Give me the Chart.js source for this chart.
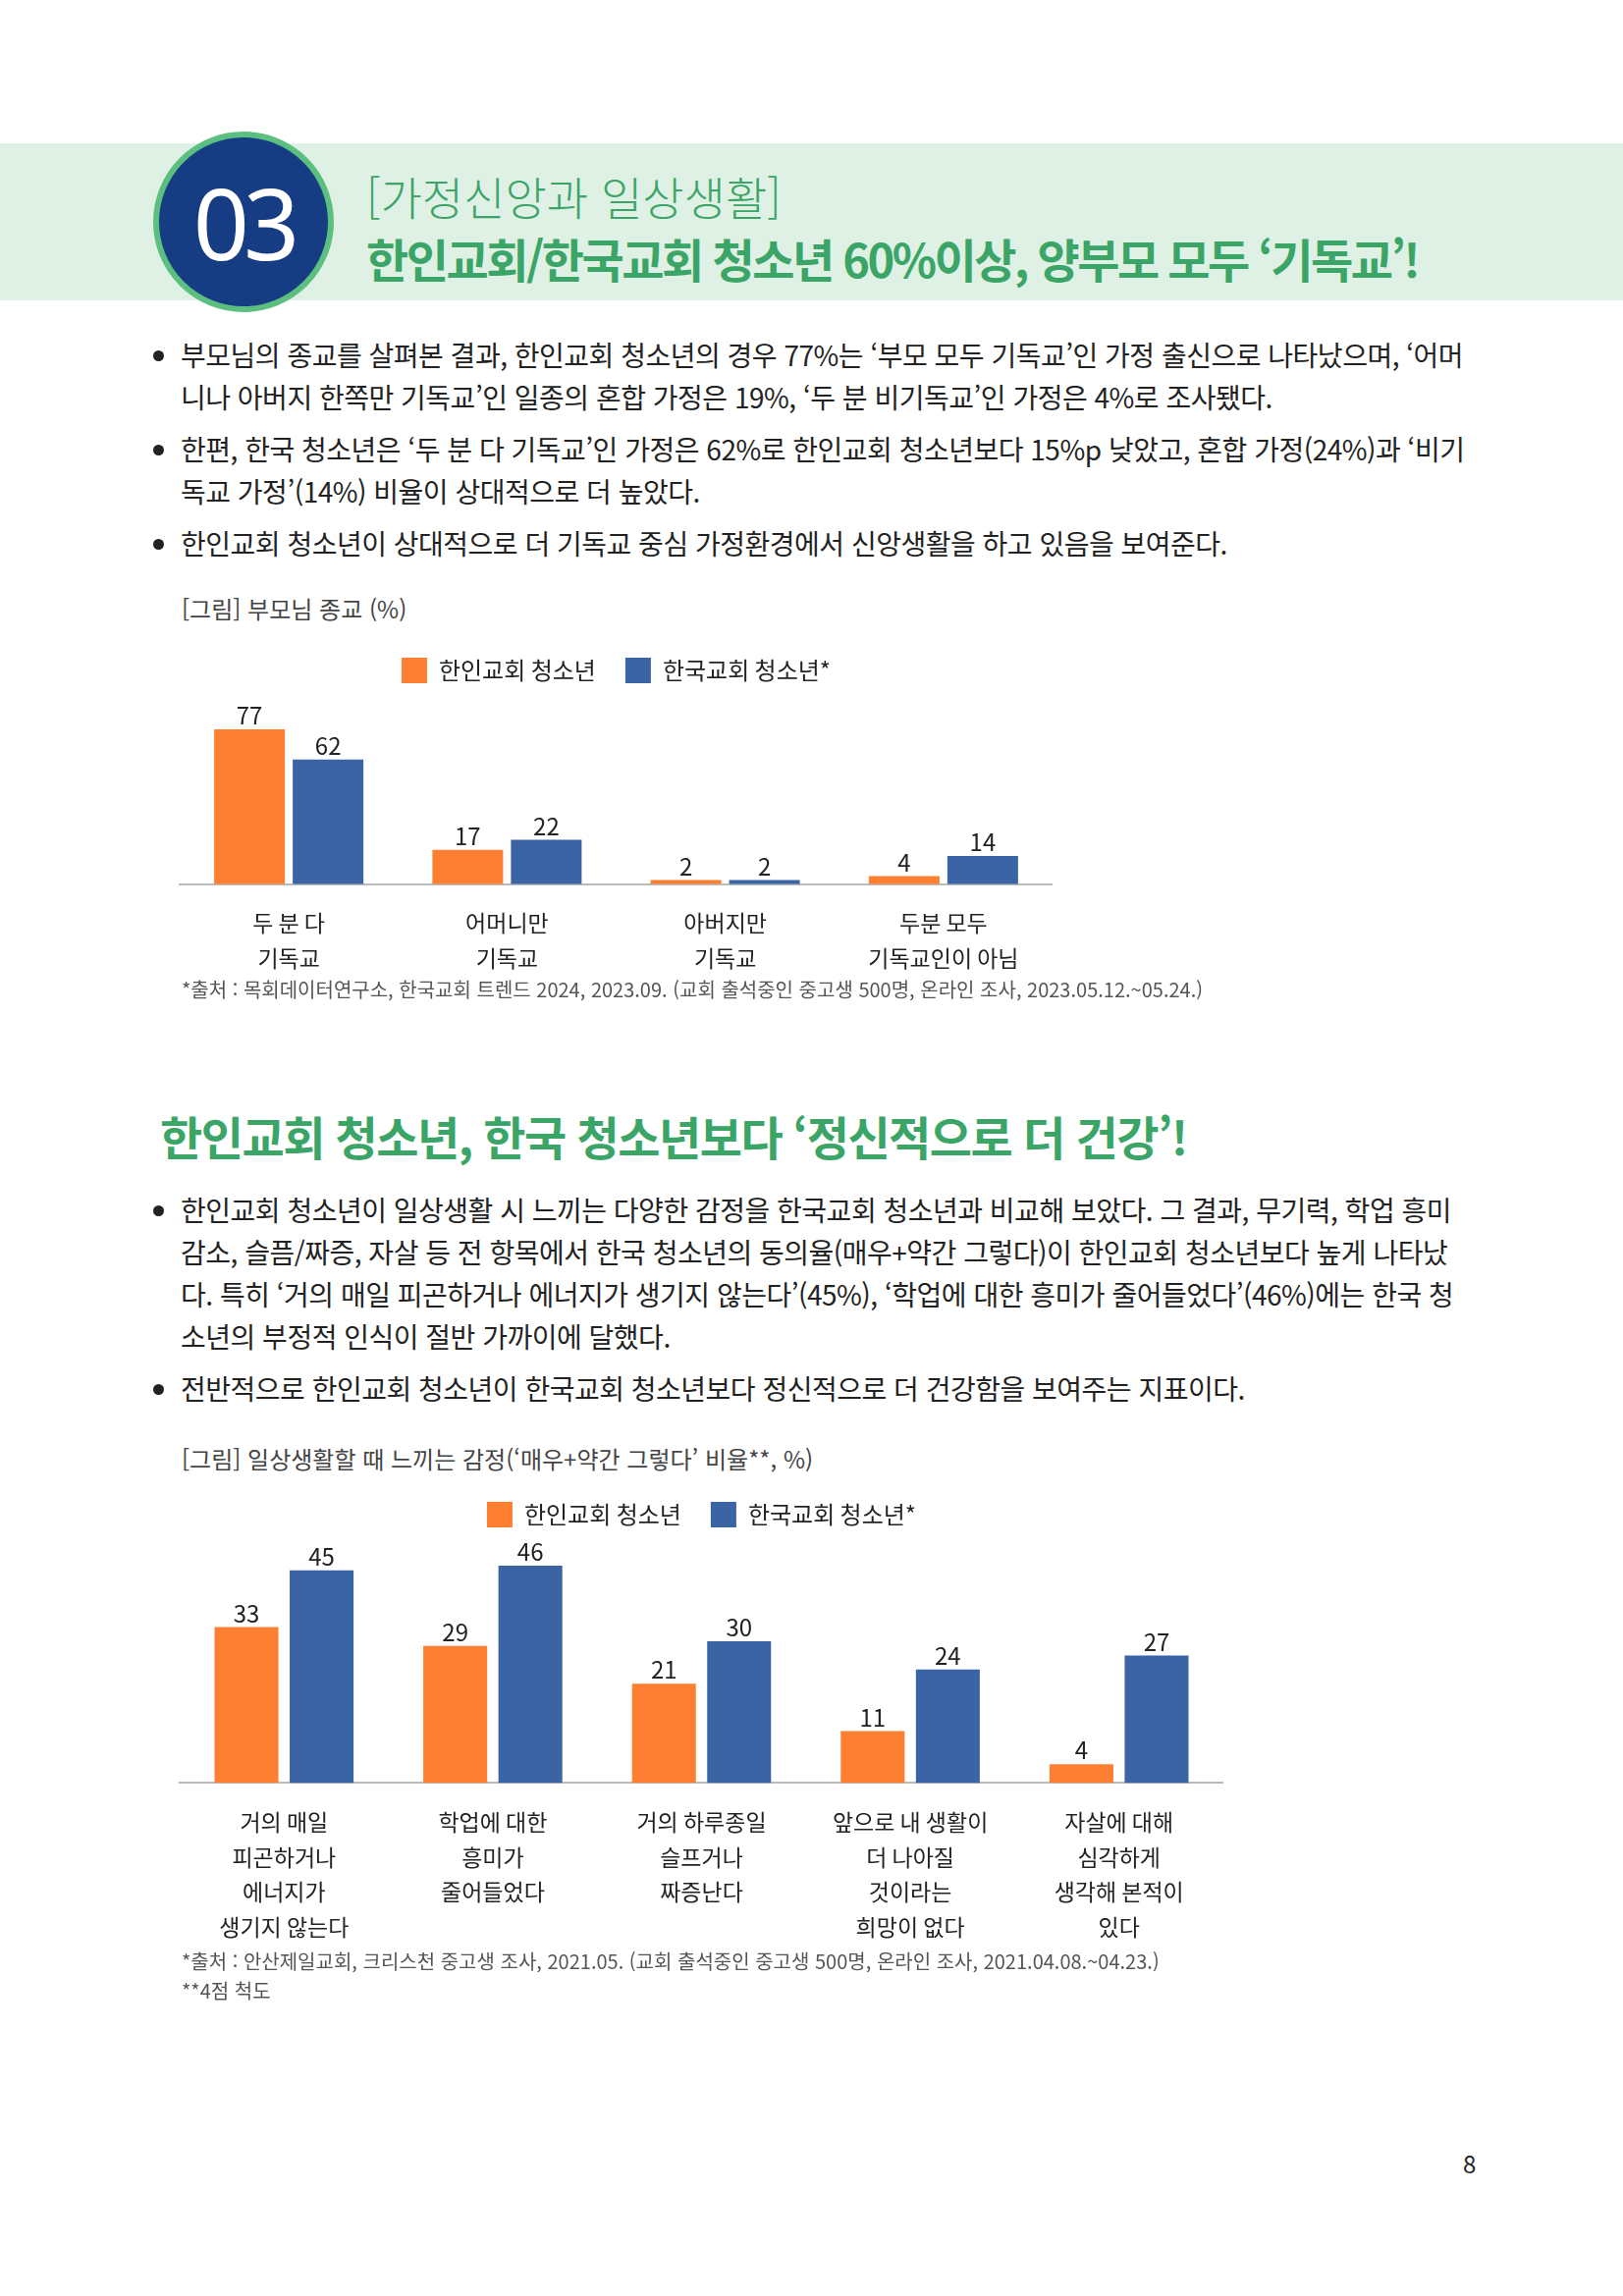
<!DOCTYPE html>
<html lang="ko">
<head>
<meta charset="utf-8">
<script src="https://cdn.jsdelivr.net/npm/chart.js@4"></script>
<style>
	body { margin: 0; width: 1653px; height: 2339px; background: #fff; position: relative; font-family: "Noto Sans CJK KR", "Noto Sans", sans-serif; color: #222; }
	.band { position: absolute; left: 0; top: 146px; width: 1653px; height: 160px; background: #dff0e5; }
	.circle { position: absolute; left: 156px; top: 134px; width: 172px; height: 172px; border-radius: 50%; background: #163d83; border: 6px solid #5bbf7f; color: #fff; font-size: 100px; line-height: 172px; text-align: center; letter-spacing: -6px; font-family: "Noto Sans", sans-serif; }
	.sub { position: absolute; left: 373px; top: 166px; font-size: 46px; color: #3aa566; font-weight: 300; }
	.title { position: absolute; left: 373px; top: 228px; font-size: 47px; color: #3aa566; font-weight: 700; letter-spacing: -2.5px; }
	.h2 { position: absolute; left: 163px; top: 1122px; font-size: 47px; color: #3aa566; font-weight: 700; letter-spacing: -1.5px; }
	ul { position: absolute; left: 150px; width: 1310px; margin: 0; padding: 0 0 0 34px; font-size: 28px; line-height: 43px; letter-spacing: -0.5px; }
	li { margin-bottom: 10px; }
	.cap { position: absolute; left: 185px; font-size: 24px; color: #444; }
	.src { position: absolute; left: 185px; font-size: 20px; color: #555; line-height: 30px; }
	.wrap { position: absolute; }
	.pn { position: absolute; left: 1490px; top: 2186px; font-size: 24px; }
</style>
</head>
<body>
<div class="band"></div>
<div class="circle">03</div>
<div class="sub">[가정신앙과 일상생활]</div>
<div class="title">한인교회/한국교회 청소년 60%이상, 양부모 모두 ‘기독교’!</div>
<ul style="top:340px">
	<li>부모님의 종교를 살펴본 결과, 한인교회 청소년의 경우 77%는 ‘부모 모두 기독교’인 가정 출신으로 나타났으며, ‘어머니나 아버지 한쪽만 기독교’인 일종의 혼합 가정은 19%, ‘두 분 비기독교’인 가정은 4%로 조사됐다.</li>
	<li>한편, 한국 청소년은 ‘두 분 다 기독교’인 가정은 62%로 한인교회 청소년보다 15%p 낮았고, 혼합 가정(24%)과 ‘비기독교 가정’(14%) 비율이 상대적으로 더 높았다.</li>
	<li>한인교회 청소년이 상대적으로 더 기독교 중심 가정환경에서 신앙생활을 하고 있음을 보여준다.</li>
</ul>
<div class="cap" style="top:602px">[그림] 부모님 종교 (%)</div>
<div class="wrap" style="left:150px;top:640px;width:922px;height:368px"><canvas id="c1"></canvas></div>
<div class="src" style="top:993px">*출처 : 목회데이터연구소, 한국교회 트렌드 2024, 2023.09. (교회 출석중인 중고생 500명, 온라인 조사, 2023.05.12.~05.24.)</div>

<div class="h2">한인교회 청소년, 한국 청소년보다 ‘정신적으로 더 건강’!</div>
<ul style="top:1211px">
	<li>한인교회 청소년이 일상생활 시 느끼는 다양한 감정을 한국교회 청소년과 비교해 보았다. 그 결과, 무기력, 학업 흥미 감소, 슬픔/짜증, 자살 등 전 항목에서 한국 청소년의 동의율(매우+약간 그렇다)이 한인교회 청소년보다 높게 나타났다. 특히 ‘거의 매일 피곤하거나 에너지가 생기지 않는다’(45%), ‘학업에 대한 흥미가 줄어들었다’(46%)에는 한국 청소년의 부정적 인식이 절반 가까이에 달했다.</li>
	<li>전반적으로 한인교회 청소년이 한국교회 청소년보다 정신적으로 더 건강함을 보여주는 지표이다.</li>
</ul>
<div class="cap" style="top:1468px">[그림] 일상생활할 때 느끼는 감정(‘매우+약간 그렇다’ 비율**, %)</div>
<div class="wrap" style="left:150px;top:1500px;width:1096px;height:495px"><canvas id="c2"></canvas></div>
<div class="src" style="top:1983px">*출처 : 안산제일교회, 크리스천 중고생 조사, 2021.05. (교회 출석중인 중고생 500명, 온라인 조사, 2021.04.08.~04.23.)<br>**4점 척도</div>
<div class="pn">8</div>

<script>
const seriesNames = ["한인교회 청소년", "한국교회 청소년*"];
const colors = ["#fd7f32", "#3a64a4"];

const religionLabels = [["두 분 다", "기독교"], ["어머니만", "기독교"], ["아버지만", "기독교"], ["두분 모두", "기독교인이 아님"]];
const religionOverseas = [77, 17, 2, 4];
const religionKorea = [62, 22, 2, 14];

const emotionLabels = [
	["거의 매일", "피곤하거나", "에너지가", "생기지 않는다"],
	["학업에 대한", "흥미가", "줄어들었다"],
	["거의 하루종일", "슬프거나", "짜증난다"],
	["앞으로 내 생활이", "더 나아질", "것이라는", "희망이 없다"],
	["자살에 대해", "심각하게", "생각해 본적이", "있다"]
];
const emotionOverseas = [33, 29, 21, 11, 4];
const emotionKorea = [45, 46, 30, 24, 27];

const font = "'Noto Sans CJK KR', 'Noto Sans', sans-serif";

const valueLabels = {
	id: "valueLabels",
	afterDatasetsDraw(chart) {
		const ctx = chart.ctx;
		ctx.save();
		ctx.fillStyle = "#222";
		ctx.font = "24px " + font;
		ctx.textAlign = "center";
		chart.data.datasets.forEach((ds, i) => {
			chart.getDatasetMeta(i).data.forEach((bar, j) => {
				ctx.fillText(ds.data[j], bar.x, bar.y - 14);
			});
		});
		ctx.restore();
	},
};

const barChart = (id, labels, a, b, max, catPct, barPct, left) => {
	const ctx = document.getElementById(id).getContext("2d");
	new Chart(ctx, {
		type: "bar",
		data: {
			labels,
			datasets: [
				{ label: seriesNames[0], data: a, backgroundColor: colors[0], categoryPercentage: catPct, barPercentage: barPct },
				{ label: seriesNames[1], data: b, backgroundColor: colors[1], categoryPercentage: catPct, barPercentage: barPct },
			],
		},
		options: {
			responsive: true,
			maintainAspectRatio: false,
			animation: false,
			layout: { padding: { left: left, right: 0 } },
			plugins: {
				tooltip: { enabled: false },
				legend: {
					position: "top",
					labels: { boxWidth: 26, boxHeight: 26, padding: 30, color: "#222", font: { family: font, size: 24 } },
				},
			},
			scales: {
				x: {
					grid: { display: false },
					border: { color: "#bbb", width: 2 },
					ticks: { color: "#222", padding: 14, font: { family: font, size: 23, lineHeight: 1.55 } },
				},
				y: { display: false, min: 0, max: max },
			},
		},
		plugins: [valueLabels],
	});
};

barChart("c1", religionLabels, religionOverseas, religionKorea, 95, 0.72, 0.9, 33);
barChart("c2", emotionLabels, emotionOverseas, emotionKorea, 52, 0.72, 0.85, 33);
</script>
</body>
</html>
